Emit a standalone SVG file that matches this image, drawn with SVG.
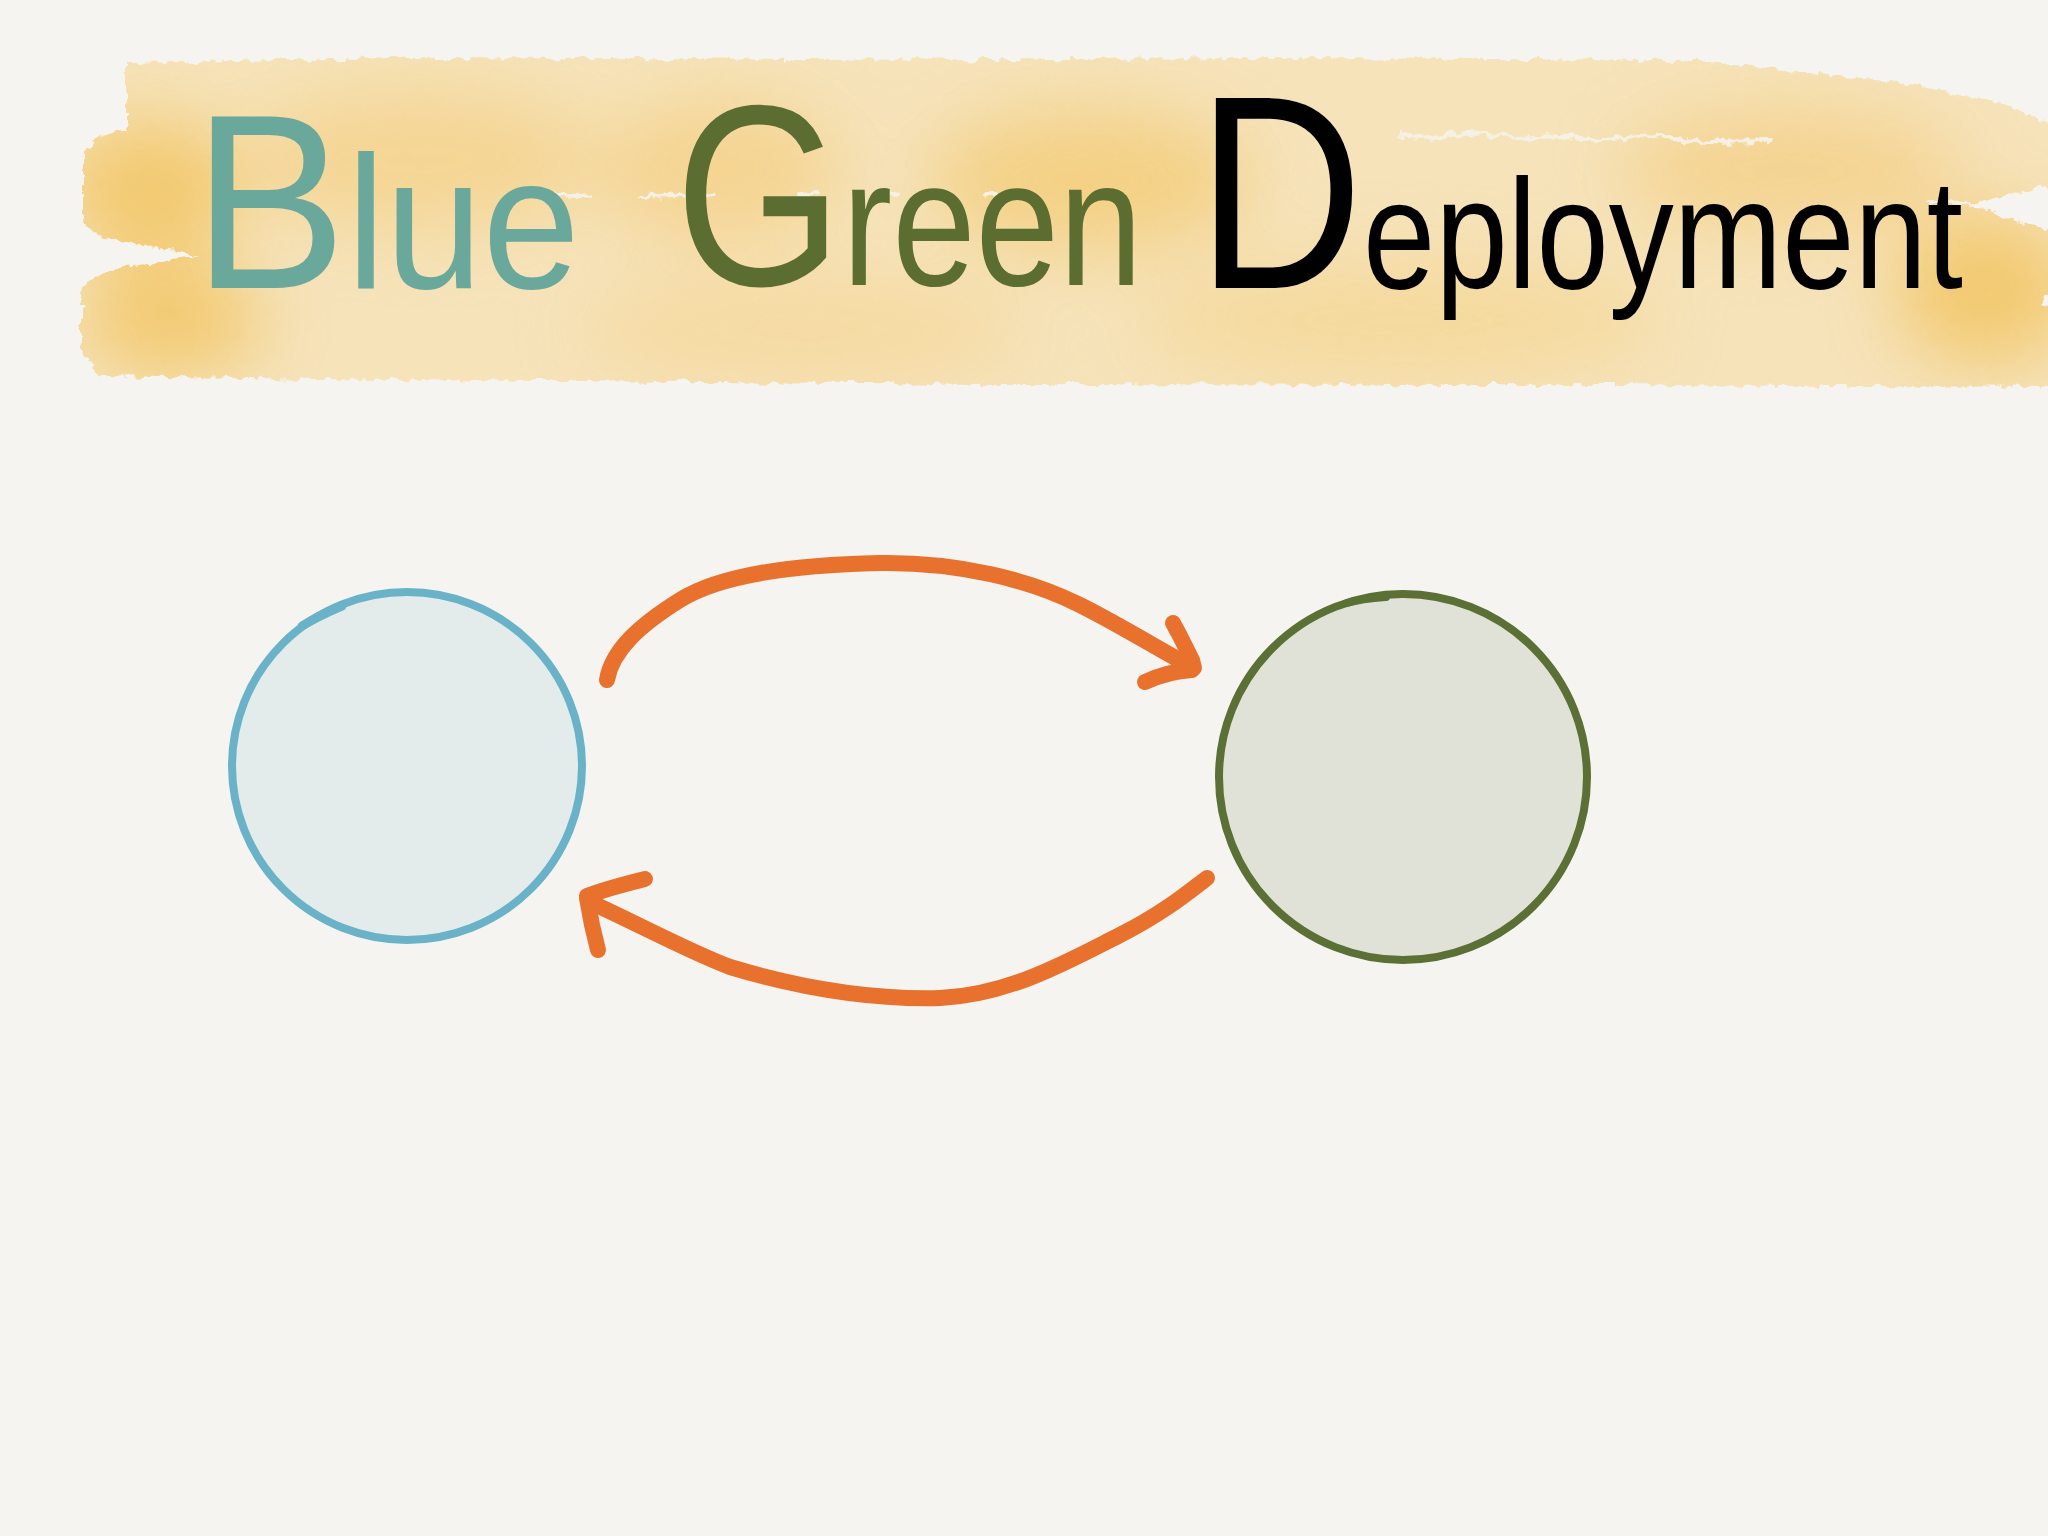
<svg xmlns="http://www.w3.org/2000/svg" width="2048" height="1536" viewBox="0 0 2048 1536">
<defs>
<style>
.title{font-family:"Liberation Sans","Open Sans",sans-serif;font-weight:400}
.arrow{fill:none;stroke:#e8712d;stroke-width:16;stroke-linecap:round;stroke-linejoin:round}
.node{stroke-width:8}
.seam{fill:none;stroke:#f6f1e4;stroke-width:4;stroke-linecap:round}
</style>
<filter id="rough" x="-5%" y="-25%" width="110%" height="150%">
<feTurbulence type="fractalNoise" baseFrequency="0.09" numOctaves="3" seed="4" result="n"/>
<feDisplacementMap in="SourceGraphic" in2="n" scale="11" xChannelSelector="R" yChannelSelector="G"/>
</filter>
<filter id="soft" x="-60%" y="-60%" width="220%" height="220%">
<feGaussianBlur stdDeviation="35"/>
</filter>
<clipPath id="bannerClip">
<path d="M127,63 L400,58 L800,60 L1300,58 L1700,60 L1800,72 L1900,83 L2000,102 L2048,123 L2070,125 L2070,185 L2040,187 L1977,203 L1500,235 L900,250 L400,258 L193,255 L150,246 L100,236 L83,220 L83,150 L100,136 L127,130 Z"/>
<path d="M193,257 L120,268 L95,276 L82,292 L82,352 L100,376 L400,380 L1000,384 L1600,385 L2070,387 L2070,312 L2040,305 L2045,297 L2070,295 L2070,235 L2048,232 L1977,206 L1500,180 L900,175 L400,200 Z"/>
</clipPath>
</defs>
<rect width="2048" height="1536" fill="#f5f4f0"/>

<g id="banner" filter="url(#rough)">
<g clip-path="url(#bannerClip)">
<rect x="60" y="40" width="2020" height="360" fill="#f6e3ba"/>
<g filter="url(#soft)" opacity="0.85">
<ellipse cx="150" cy="190" rx="90" ry="70" fill="#f2c564"/>
<ellipse cx="170" cy="320" rx="90" ry="55" fill="#f2c564"/>
<ellipse cx="420" cy="160" rx="180" ry="70" fill="#f4d38e"/>
<ellipse cx="720" cy="170" rx="120" ry="70" fill="#f4d18a"/>
<ellipse cx="1090" cy="180" rx="160" ry="70" fill="#f3cd7c"/>
<ellipse cx="1400" cy="320" rx="260" ry="60" fill="#f5d899"/>
<ellipse cx="1985" cy="290" rx="90" ry="75" fill="#f2c564"/>
<ellipse cx="1790" cy="170" rx="170" ry="60" fill="#f4d089"/>
<ellipse cx="800" cy="330" rx="220" ry="50" fill="#f5d89c"/>
</g>
<path class="seam" d="M1400,135 L1430,138 L1470,132 L1520,138 L1560,136 L1600,140 L1650,136 L1700,142 L1770,141"/>
<path class="seam" d="M526,193 L593,197 M642,197 L714,195 M800,195 L815,194 M885,192 L900,194 M985,195 L995,195 M1120,197 L1126,197 M1930,203 L1967,204"/>
</g>
</g>

<g id="title">
<text class="title" transform="translate(193,288) scale(1,1.08)" fill="#6aa89b"><tspan font-size="230">B</tspan><tspan font-size="175">lue</tspan></text>
<text class="title" transform="translate(675,285) scale(1,1.2)" fill="#5b6d31"><tspan font-size="215">G</tspan><tspan font-size="150">reen</tspan></text>
<text class="title" transform="translate(1197,288) scale(1,1.2)" fill="#000000"><tspan font-size="230">D</tspan><tspan font-size="130">eployment</tspan></text>
</g>

<g id="node-blue">
<ellipse class="node" cx="407" cy="766" rx="175" ry="174" fill="#e3ecea" stroke="#69b2c8"/>
<path d="M302,626 C315,618 330,611 342,606" fill="none" stroke="#69b2c8" stroke-width="9" stroke-linecap="round"/>
</g>

<g id="node-green">
<ellipse class="node" cx="1403" cy="777" rx="184" ry="183" fill="#e0e2d8" stroke="#5a7035"/>
<path d="M1347,603 C1360,599 1372,598 1386,597" fill="none" stroke="#5a7035" stroke-width="8" stroke-linecap="round"/>
</g>

<g id="connectors">
<path class="arrow" d="M607,680 C612,650 640,625 680,600 C720,575 790,565 880,563 C960,562 1030,580 1080,605 C1120,625 1160,650 1190,666"/>
<path class="arrow" d="M1173,623 L1180,636 L1192,660 L1194,668"/>
<path class="arrow" d="M1192,670 C1175,671 1160,675 1145,682"/>
<path class="arrow" d="M1207,878 C1185,895 1160,915 1120,935 C1070,960 1010,995 940,998 C860,1000 790,985 730,967 C690,952 640,925 590,902"/>
<path class="arrow" d="M645,879 C625,884 600,891 587,896"/>
<path class="arrow" d="M587,898 L592,925 L598,950"/>
</g>
</svg>
